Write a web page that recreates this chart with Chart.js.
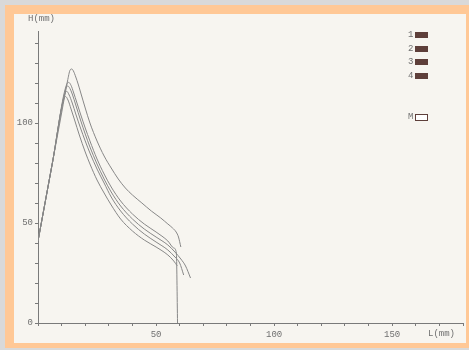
<!DOCTYPE html>
<html lang="en">
<head>
    <meta charset="UTF-8">
    <title>H(mm) / L(mm)</title>
    <script src="https://cdn.jsdelivr.net/npm/chart.js"></script>
    <style>
        body {
            margin: 0;
            width: 469px;
            height: 350px;
            overflow: hidden;
            background: #d9d9d9;
            font-family: 'Liberation Mono', 'DejaVu Sans Mono', monospace;
        }
        .frame {
            position: absolute;
            left: 5px; top: 5px;
            width: 464px; height: 343px;
            background: #ffc896;
        }
        .paper {
            position: absolute;
            left: 14px; top: 14px;
            width: 452px; height: 329px;
            background: #f7f5f0;
        }
        #chart { position: absolute; left: 0; top: 0; }
        .lbl {
            position: absolute;
            font-size: 9px;
            line-height: 10px;
            color: #6f6f6f;
            white-space: nowrap;
        }
        /* legend at right top */
        .legend .item {
            position: absolute;
            left: 394px;
            height: 10px;
            font-size: 9px;
            line-height: 10px;
            color: #6f6f6f;
        }
        .legend .box {
            position: absolute;
            left: 7px; top: 2px;
            width: 13px; height: 6px;
            background: #5e3f3a;
        }
        .legend .box.empty {
            background: #fff;
            border: 1px solid #5e3f3a;
            width: 11px; height: 5px;
        }
    </style>
</head>
<body>
<div class="frame"></div>
<div class="paper">
    <canvas id="chart" width="452" height="329"></canvas>
    <div class="lbl" style="left:14px; top:0px;">H(mm)</div>
    <div class="lbl" style="left:414px; top:315px;">L(mm)</div>
    <div class="legend" id="legend"></div>
</div>
<script>
// curve data (L in mm, H in mm)
const c1X = [0, 6, 10, 12.5, 13.6, 14.3, 15, 16, 17, 18, 20, 22, 25, 28, 31, 34, 37, 40, 44, 48, 52, 55, 57, 58.5, 59.5, 60.5];
const c1Y = [41, 79.4, 105, 121, 126.5, 127, 126, 123, 119.5, 115.5, 107.5, 100, 91, 83.5, 77.5, 72, 67.5, 64, 60, 56, 52.5, 49.5, 47.5, 45.5, 43, 38];

const c2X = [0, 6, 12, 12.6, 13.5, 14.5, 16, 18, 20, 22, 25, 28, 31, 35, 40, 45, 50, 55, 58, 60.5, 62.5, 64.6];
const c2Y = [41, 79.4, 117.8, 118.5, 117.3, 114.5, 109, 101.5, 94.5, 88, 79.5, 72, 65.5, 58.5, 52, 47, 43, 39, 35.5, 32, 28.5, 22.5];

const c3X = [0, 6, 11.6, 12.2, 13.2, 14.5, 16, 18, 20, 22, 25, 28, 31, 35, 40, 45, 50, 55, 58, 60, 61.7];
const c3Y = [41, 79.4, 115.2, 115.8, 114, 110, 104.5, 97.5, 91, 85, 77, 70, 63, 56, 49.5, 44.5, 40.5, 36.5, 33, 30, 24];

const c4X = [0, 6, 11.2, 11.7, 12.7, 14, 15.5, 17.5, 20, 22, 25, 28, 31, 35, 40, 45, 50, 55, 57.5, 59];
const c4Y = [41, 79.4, 112.7, 113.2, 111.5, 107, 101.5, 94, 85.5, 79.5, 71.5, 65, 59, 52, 46, 41.5, 38, 34, 31, 28.5];

const cMX = [0, 6, 12.3, 13, 14, 15, 16.5, 18, 20, 22, 25, 28, 31, 35, 40, 45, 50, 55, 57.5, 58.6, 59.1];
const cMY = [41, 79.4, 119.7, 120.3, 118.8, 115.5, 110, 104.5, 97.5, 91, 82, 74.5, 68, 61, 54.5, 49.5, 45.5, 41, 37.5, 35, 0];

const curveLabels = ['1', '2', '3', '4', 'M'];
const xTickLabels = [50, 100, 150];
const yTickLabels = [0, 50, 100];

function pts(xs, ys) {
    return xs.map((x, i) => ({ x: x, y: ys[i] }));
}

const lineColor = '#878787';
const axisColor = '#7a7a7a';
const textColor = '#6f6f6f';
const monoFont = { family: "'Liberation Mono', 'DejaVu Sans Mono', monospace", size: 9 };

const curves = [[c1X, c1Y], [c2X, c2Y], [c3X, c3Y], [c4X, c4Y], [cMX, cMY]];

new Chart(document.getElementById('chart'), {
    type: 'line',
    data: {
        datasets: curves.map((c, i) => ({
            label: curveLabels[i],
            data: pts(c[0], c[1]),
            borderColor: lineColor,
            borderWidth: 1,
            pointRadius: 0,
            fill: false,
            cubicInterpolationMode: 'monotone'
        }))
    },
    options: {
        responsive: false,
        animation: false,
        layout: { padding: { left: 0, top: 17, right: 3, bottom: 0 } },
        plugins: {
            legend: { display: false },
            tooltip: { enabled: false }
        },
        scales: {
            x: {
                type: 'linear',
                min: 0,
                max: 180,
                border: { color: axisColor, width: 1 },
                grid: { drawOnChartArea: false, drawTicks: true, tickLength: 3, color: axisColor },
                ticks: {
                    stepSize: 10,
                    autoSkip: false,
                    maxRotation: 0,
                    padding: 3,
                    color: textColor,
                    font: monoFont,
                    callback: v => xTickLabels.includes(v) ? String(v) : ''
                },
                afterFit: s => { s.height = 20; }
            },
            y: {
                type: 'linear',
                min: 0,
                max: 146,
                border: { color: axisColor, width: 1 },
                grid: { drawOnChartArea: false, drawTicks: true, tickLength: 3, color: axisColor },
                ticks: {
                    stepSize: 10,
                    autoSkip: false,
                    padding: 2,
                    color: textColor,
                    font: monoFont,
                    callback: v => yTickLabels.includes(v) ? String(v) : ''
                },
                afterBuildTicks: s => { s.ticks = s.ticks.filter(t => t.value % 10 === 0); },
                afterFit: s => { s.width = 24; }
            }
        }
    }
});

// legend: numbered filled boxes, then M (hollow)
const legendRows = [
    { text: '1', top: 16, empty: false },
    { text: '2', top: 30, empty: false },
    { text: '3', top: 43, empty: false },
    { text: '4', top: 57, empty: false },
    { text: 'M', top: 98, empty: true }
];
const legend = document.getElementById('legend');
legendRows.forEach(r => {
    const d = document.createElement('div');
    d.className = 'item';
    d.style.top = r.top + 'px';
    d.textContent = r.text;
    const b = document.createElement('span');
    b.className = r.empty ? 'box empty' : 'box';
    d.appendChild(b);
    legend.appendChild(d);
});
</script>
</body>
</html>
